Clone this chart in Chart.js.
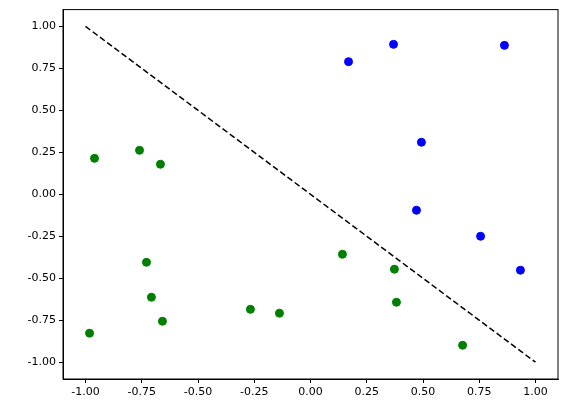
<!DOCTYPE html>
<html><head><script src="https://cdn.jsdelivr.net/npm/chart.js"></script>
<style>html,body{margin:0;padding:0;background:#fff}</style></head>
<body><div style="width:568px;height:413px"><canvas id="c"></canvas></div>
<script>
const blueX=[0.169,0.369,0.862,0.493,0.471,0.756,0.933];
const blueY=[0.79,0.893,0.887,0.31,-0.095,-0.25,-0.452];
const greenX=[-0.96,-0.76,-0.667,-0.729,-0.707,-0.658,-0.982,-0.267,-0.138,0.142,0.373,0.382,0.676];
const greenY=[0.214,0.262,0.179,-0.405,-0.613,-0.756,-0.827,-0.685,-0.708,-0.357,-0.446,-0.643,-0.899];
const lineX=[-1,1], lineY=[1,-1];
const tickVals=[-1,-0.75,-0.5,-0.25,0,0.25,0.5,0.75,1];
const pts=(xs,ys)=>xs.map((x,i)=>({x,y:ys[i]}));
const tick={color:'#000',font:{family:'DejaVu Sans',size:11},callback:v=>v.toFixed(2)};
const grid={display:true,drawOnChartArea:false,tickLength:4,color:'#000'};
const box={id:'box',afterDraw(c){const a=c.chartArea,x=c.ctx;x.save();x.strokeStyle='#000';x.lineWidth=1;x.strokeRect(a.left,a.top,a.right-a.left,a.bottom-a.top);x.restore();}};
new Chart(document.getElementById('c'),{
 type:'scatter',plugins:[box],
 data:{datasets:[
  {data:pts(lineX,lineY),showLine:true,borderColor:'#000',borderDash:[6,3],borderWidth:1.5,pointRadius:0,fill:false},
  {data:pts(blueX,blueY),backgroundColor:'#0000ff',borderColor:'#0000ff',pointRadius:4},
  {data:pts(greenX,greenY),backgroundColor:'#008000',borderColor:'#008000',pointRadius:4}
 ]},
 options:{responsive:true,maintainAspectRatio:false,animation:false,
  layout:{padding:{top:9,right:10,left:0,bottom:0}},
  plugins:{legend:{display:false},tooltip:{enabled:false}},
  scales:{
   x:{type:'linear',min:-1.1,max:1.1,afterBuildTicks:a=>{a.ticks=tickVals.map(v=>({value:v}))},
      ticks:tick,grid,border:{color:'#000'},afterFit:a=>{a.height=34}},
   y:{type:'linear',min:-1.1,max:1.1,afterBuildTicks:a=>{a.ticks=tickVals.map(v=>({value:v}))},
      ticks:tick,grid,border:{color:'#000'},afterFit:a=>{a.width=63}}
  }}
});
</script></body></html>
